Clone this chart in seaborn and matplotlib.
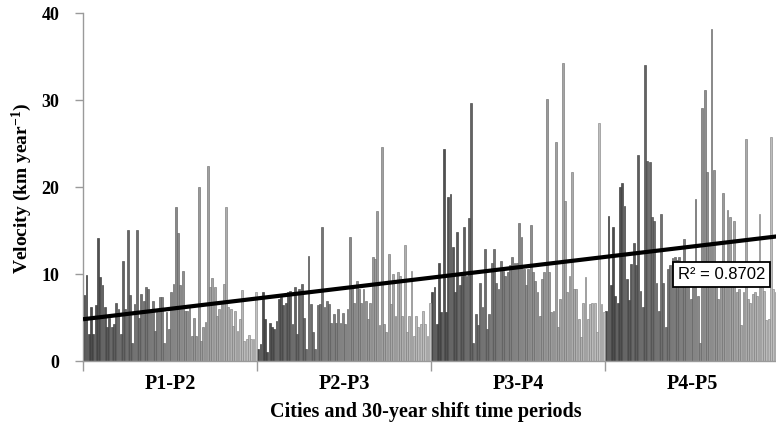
import numpy as np
import pandas as pd
import matplotlib
matplotlib.use("Agg")
import matplotlib.pyplot as plt
import seaborn as sns
from matplotlib.colors import to_rgb

# ---------------- data ----------------
periods = ["P1-P2", "P2-P3", "P3-P4", "P4-P5"]

p1_p2 = [7.6, 9.9, 3.1, 6.2, 3.1, 6.4, 14.1, 9.6, 8.7, 6.2, 3.9, 4.9, 3.9, 4.2, 6.7,
         6.0, 3.1, 11.5, 6.0, 15.1, 7.6, 2.1, 6.6, 15.1, 4.9, 7.7, 6.9, 8.5, 8.3, 5.6,
         6.9, 3.5, 5.6, 7.4, 7.4, 2.1, 5.6, 3.7, 7.9, 8.9, 17.7, 14.7, 8.7, 10.3, 5.8,
         5.8, 6.3, 2.9, 4.9, 2.9, 20.0, 2.3, 3.9, 4.5, 22.4, 8.5, 9.5, 8.5, 5.2, 6.0,
         6.6, 8.9, 17.7, 6.2, 6.0, 4.0, 5.8, 3.4, 4.8, 8.2, 2.3, 2.5, 3.0, 2.5, 2.5, 7.9]

p2_p3 = [1.4, 2.0, 7.9, 4.8, 1.0, 4.4, 3.9, 3.7, 4.6, 7.1, 7.3, 6.4, 6.7, 7.9, 8.1,
         4.3, 8.5, 3.1, 8.3, 8.9, 5.0, 1.4, 12.1, 6.6, 3.3, 1.4, 6.4, 6.6, 15.4, 6.2,
         6.9, 6.6, 4.4, 5.4, 4.4, 6.0, 4.4, 5.5, 4.2, 6.0, 14.3, 8.7, 6.7, 9.2, 8.3,
         6.7, 8.3, 6.9, 4.8, 6.7, 12.0, 11.7, 17.2, 4.1, 24.6, 4.3, 3.3, 12.3, 6.6, 10.0,
         5.2, 10.2, 9.8, 5.2, 13.3, 3.3, 5.2, 10.4, 2.9, 5.2, 3.9, 4.3, 5.8, 4.3, 2.9, 6.7]

p3_p4 = [7.9, 8.5, 4.3, 11.3, 5.6, 24.4, 5.6, 18.8, 19.2, 13.1, 7.9, 14.8, 8.7, 9.8, 15.4,
         9.8, 16.4, 29.7, 2.1, 5.4, 4.1, 9.0, 6.2, 12.9, 3.7, 5.4, 11.3, 12.9, 9.0, 8.3,
         11.5, 10.4, 9.8, 10.2, 11.0, 12.0, 11.3, 11.3, 15.9, 14.2, 10.6, 8.7, 10.6, 15.6, 10.2,
         9.2, 7.9, 5.2, 9.4, 10.2, 30.1, 10.2, 5.6, 5.7, 25.2, 3.9, 7.1, 34.3, 18.4, 7.9,
         9.8, 21.7, 8.3, 8.3, 4.8, 2.8, 6.7, 9.6, 4.8, 6.6, 6.7, 6.7, 3.3, 27.4, 6.6, 5.6]

p4_p5 = [5.7, 16.7, 8.7, 15.4, 7.5, 6.7, 20.0, 20.5, 17.8, 9.4, 7.0, 11.1, 13.6, 11.0, 23.7,
         8.1, 6.2, 34.0, 23.0, 22.9, 16.5, 16.1, 9.0, 5.8, 16.9, 9.0, 3.9, 10.6, 11.0, 11.8,
         12.0, 11.6, 12.0, 11.3, 14.0, 8.7, 10.6, 7.1, 11.3, 18.6, 7.5, 2.1, 29.1, 31.1, 21.7,
         13.3, 38.2, 21.9, 9.4, 7.1, 9.0, 19.3, 9.0, 17.3, 16.5, 8.7, 16.1, 7.9, 8.3, 4.1,
         7.9, 25.5, 7.1, 6.7, 7.7, 7.9, 7.5, 16.9, 8.5, 8.1, 4.7, 4.8, 25.7, 8.3, 7.9, 13.6]

trend_start = 4.8     # trendline value at left edge of the plot
trend_end = 14.35     # trendline value at right edge of the plot
r2_label = "R\u00b2 = 0.8702"
y_ticks = [0, 10, 20, 30, 40]
y_label = "Velocity (km year$^{-1}$)"
x_label = "Cities and 30-year shift time periods"

# ---------------- style ----------------
sns.set_theme(style="ticks")
plt.rcParams["font.family"] = ["Liberation Serif", "DejaVu Serif"]
plt.rcParams["mathtext.fontset"] = "custom"
plt.rcParams["mathtext.rm"] = "Liberation Serif:bold"
plt.rcParams["mathtext.it"] = "Liberation Serif:bold:italic"
plt.rcParams["mathtext.bf"] = "Liberation Serif:bold"

groups = [p1_p2, p2_p3, p3_p4, p4_p5]
n = len(p1_p2)
rows = []
for g, (name, vals) in enumerate(zip(periods, groups)):
    for j, v in enumerate(vals):
        rows.append({"period": name, "pos": g * n + j, "velocity": v, "shade": j})
df = pd.DataFrame(rows)
N = len(df)

pal = [(s, s, s) for s in np.linspace(0.28, 0.76, n)]

fig = plt.figure(figsize=(7.76, 4.31), dpi=100)
W, H = 776, 431
left, right, bottom, top = 83, 779, 362, 14
ax = fig.add_axes([left / W, (H - bottom) / H, (right - left) / W, (bottom - top) / H])

sns.barplot(data=df, x="pos", y="velocity", hue="shade", palette=pal, legend=False,
            dodge=False, width=0.8, errorbar=None, ax=ax, zorder=2)

for p in ax.patches:
    fc = np.array(to_rgb(p.get_facecolor()))
    p.set_edgecolor(tuple(fc * 0.72))
    p.set_linewidth(0.45)

ax.set_xlim(-0.5, N - 0.5)
ax.set_ylim(0, 40)

# trendline
xs = np.array(ax.get_xlim())
ax.plot(xs, [trend_start, trend_end], color="black", lw=3.0, solid_capstyle="butt", zorder=5)

# axes styling
spine_c = "#9a9a9a"
sns.despine(ax=ax)
for s in ["left", "bottom"]:
    ax.spines[s].set_color(spine_c)
    ax.spines[s].set_linewidth(1.0)

ax.set_yticks(y_ticks)
ax.set_yticklabels([str(t) for t in y_ticks], fontsize=13, fontweight="bold")
ax.tick_params(axis="y", direction="out", length=6, width=1, color=spine_c, pad=11, labelcolor="black")

bounds = [g * n - 0.5 for g in range(len(periods) + 1)]
centers = [g * n + (n - 1) / 2 for g in range(len(periods))]
ax.set_xticks(bounds)
ax.set_xticklabels([""] * len(bounds))
ax.tick_params(axis="x", which="major", direction="out", length=7, width=1, color=spine_c)
ax.set_xticks(centers, minor=True)
ax.set_xticklabels(periods, minor=True, fontsize=14.5, fontweight="bold")
ax.tick_params(axis="x", which="minor", length=0, pad=9, labelcolor="black")

ax.set_ylabel(y_label, fontsize=14, fontweight="bold", color="black")
ax.yaxis.set_label_coords(-0.071, 0.5)
ax.set_xlabel(x_label, fontsize=14.5, fontweight="bold", color="black")
ax.xaxis.set_label_coords(0.492, -0.115)

ax.text(0.917, 0.25, r2_label, transform=ax.transAxes, ha="center", va="center",
        fontsize=12, family=["Liberation Sans", "DejaVu Sans"], color="black", zorder=10,
        bbox=dict(boxstyle="square,pad=0.3", fc="white", ec="black", lw=1.3))

fig.savefig("out.png", dpi=100)
